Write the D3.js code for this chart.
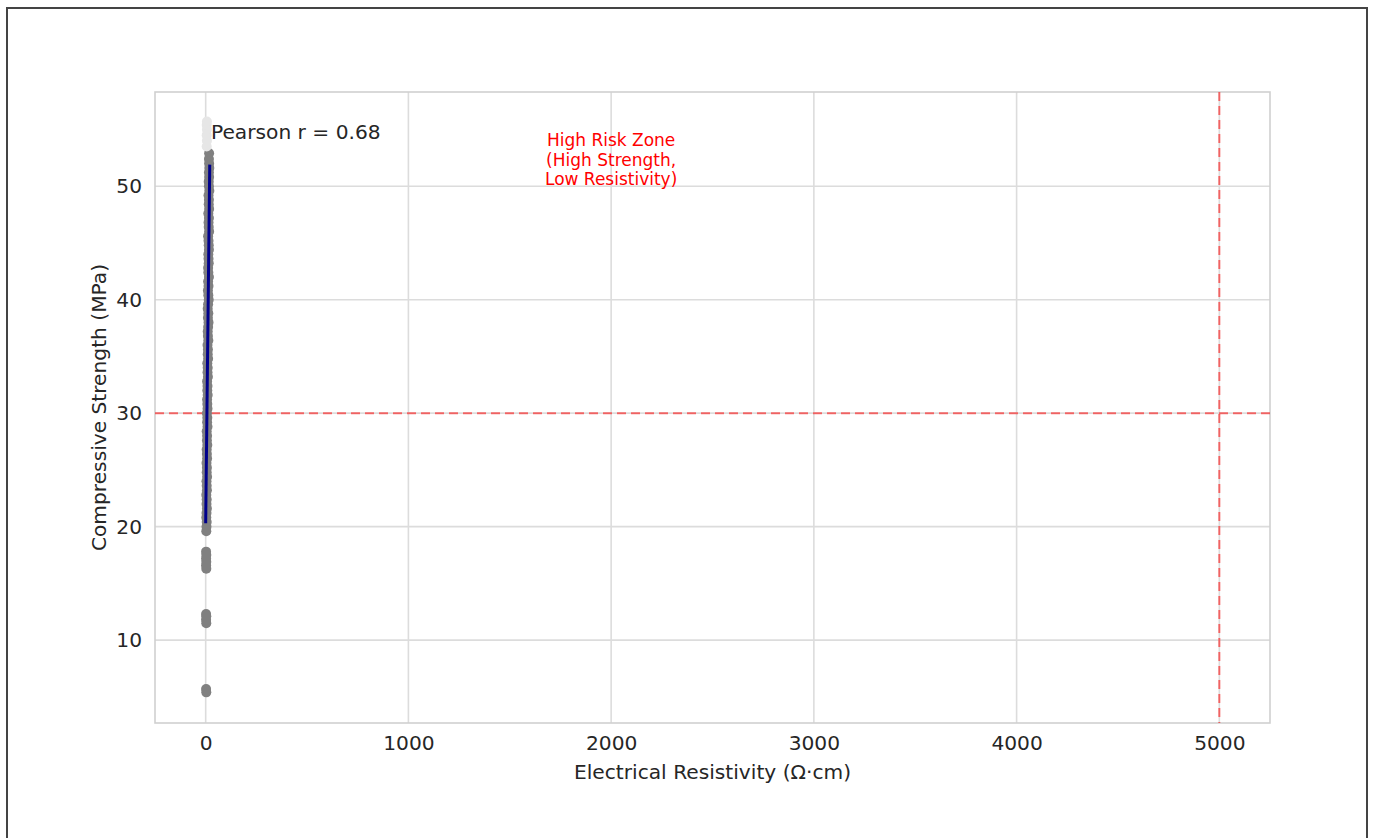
<!DOCTYPE html>
<html><head><meta charset="utf-8">
<script src="https://cdn.jsdelivr.net/npm/d3@7"></script>
<style>body{margin:0;background:#fff;} text{font-family:"DejaVu Sans",sans-serif;}</style>
</head><body><svg id="c" width="1373" height="838"></svg>
<script>
// ---- data ----
const lowResistivity = [3,2, 3,2,3,2, 3,2,3,2,3,2];
const lowStrength    = [5.4,5.7, 11.5,11.8,12.1,12.3, 16.3,16.6,16.9,17.2,17.5,17.8];
const resistivity = [3,4,5,3,4,6,4,5,3,6, 5,4,7,5,6,4,7,6,5,8, 6,7,5,9,7,8,6,9,8,7, 10,8,9,7,11,9,10,8,12,10,
  11,9,13,11,10,12,14,11,13,10, 12,15,13,11,14,12,16,13,12,15, 14,13,16,15,14,12,17,15,14,16, 13,17,15,16,14,18,16,15,17,16, 18,17,16,17];
const strength = [19.6,20.0,20.4,20.8,21.2,21.6,22.0,22.4,22.8,23.2,23.6,24.0,24.4,24.8,25.2,25.6,26.0,26.4,26.8,27.2,
  27.6,28.0,28.4,28.8,29.2,29.6,30.0,30.4,30.8,31.2,31.6,32.0,32.4,32.8,33.2,33.6,34.0,34.4,34.8,35.2,
  35.6,36.0,36.4,36.8,37.2,37.6,38.0,38.4,38.8,39.2,39.6,40.0,40.4,40.8,41.2,41.6,42.0,42.4,42.8,43.2,
  43.6,44.0,44.4,44.8,45.2,45.6,46.0,46.4,46.8,47.2,47.6,48.0,48.4,48.8,49.2,49.6,50.0,50.4,50.8,51.2,
  51.6,52.0,52.4,52.9];
const lightResistivity = [5,6,5,6,5,6];
const lightStrength = [53.5,54.0,54.5,55.0,55.4,55.7];
const fitResistivity = [0, 20];
const fitStrength = [20.3, 51.9];
const xTicks = [0,1000,2000,3000,4000,5000];
const yTicks = [10,20,30,40,50];
const strengthThreshold = 30;
const resistivityThreshold = 5000;
const pearsonLabel = "Pearson r = 0.68";
const zoneLabel = ["High Risk Zone","(High Strength,","Low Resistivity)"];

// ---- layout ----
const svg = d3.select("#c");
const L=155, R=1270, T=92, B=723;
const FS = 20.2;
const x = d3.scaleLinear().domain([-250,5250]).range([L,R]);
const y = d3.scaleLinear().domain([2.7,58.3]).range([B,T]);

// outer frame
svg.append("rect").attr("x",7).attr("y",8).attr("width",1360).attr("height",850)
  .attr("fill","none").attr("stroke","#444").attr("stroke-width",2);

// grid
const g = svg.append("g");
g.selectAll(".gx").data(xTicks).join("line").attr("x1",d=>x(d)).attr("x2",d=>x(d)).attr("y1",T).attr("y2",B)
  .attr("stroke","#dcdcdc").attr("stroke-width",1.6);
g.selectAll(".gy").data(yTicks).join("line").attr("y1",d=>y(d)).attr("y2",d=>y(d)).attr("x1",L).attr("x2",R)
  .attr("stroke","#dcdcdc").attr("stroke-width",1.6);
g.append("rect").attr("x",L).attr("y",T).attr("width",R-L).attr("height",B-T).attr("fill","none")
  .attr("stroke","#d0d0d0").attr("stroke-width",1.6);

// axes labels via d3 axes
const xa = svg.append("g").attr("transform",`translate(0,${B})`)
  .call(d3.axisBottom(x).tickValues(xTicks).tickSize(0).tickPadding(13).tickFormat(d3.format("d")));
const ya = svg.append("g").attr("transform",`translate(${L},0)`)
  .call(d3.axisLeft(y).tickValues(yTicks).tickSize(0).tickPadding(13).tickFormat(d3.format("d")));
[xa,ya].forEach(a=>{a.select(".domain").remove(); a.selectAll("text").attr("font-family","DejaVu Sans").attr("font-size",FS).attr("fill","#262626");});

svg.append("text").attr("x",(L+R)/2).attr("y",779).attr("text-anchor","middle").attr("font-size",FS).attr("fill","#262626")
  .text("Electrical Resistivity (Ω·cm)");
svg.append("text").attr("transform",`translate(106,${(T+B)/2}) rotate(-90)`).attr("text-anchor","middle").attr("font-size",FS).attr("fill","#262626")
  .text("Compressive Strength (MPa)");

// reference lines
svg.append("line").attr("x1",L).attr("x2",R).attr("y1",y(strengthThreshold)).attr("y2",y(strengthThreshold))
  .attr("stroke","#ff0000").attr("stroke-opacity",0.55).attr("stroke-width",2).attr("stroke-dasharray","9,5");
svg.append("line").attr("x1",x(resistivityThreshold)).attr("x2",x(resistivityThreshold)).attr("y1",T).attr("y2",B)
  .attr("stroke","#ff0000").attr("stroke-opacity",0.55).attr("stroke-width",2).attr("stroke-dasharray","9,5");

// points
const pts = lowResistivity.map((r,i)=>({r, s:lowStrength[i]})).concat(resistivity.map((r,i)=>({r, s:strength[i]})));
svg.append("g").selectAll("circle").data(pts).join("circle")
  .attr("cx",d=>x(d.r)).attr("cy",d=>y(d.s)).attr("r",5).attr("fill","#808080");
const lpts = lightResistivity.map((r,i)=>({r, s:lightStrength[i]}));
svg.append("g").selectAll("circle").data(lpts).join("circle")
  .attr("cx",d=>x(d.r)).attr("cy",d=>y(d.s)).attr("r",5).attr("fill","#e6e6e6");

// fit line
svg.append("path").datum(fitResistivity.map((r,i)=>[r,fitStrength[i]]))
  .attr("d",d3.line().x(d=>x(d[0])).y(d=>y(d[1]))).attr("stroke","#00008b").attr("stroke-width",3).attr("fill","none");

// annotations
svg.append("text").attr("x",211).attr("y",139).attr("font-size",FS).attr("fill","#262626").text(pearsonLabel);
const zt = svg.append("text").attr("x",x(2000)).attr("y",146).attr("text-anchor","middle").attr("font-size",17).attr("fill","#ff0000");
zoneLabel.forEach((t,i)=>zt.append("tspan").attr("x",x(2000)).attr("dy",i?19.5:0).text(t));
</script></body></html>
